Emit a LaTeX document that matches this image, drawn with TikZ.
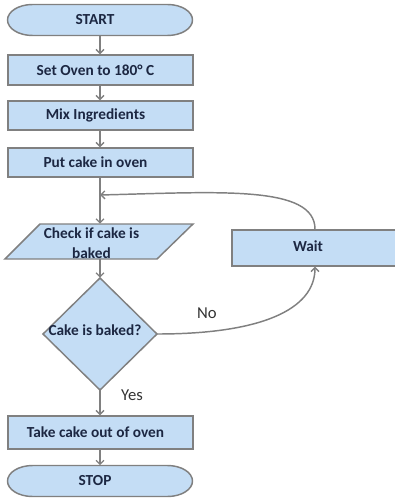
\documentclass[tikz,border=0pt]{standalone}
\usepackage{fontspec}
\setmainfont{Carlito}
\usetikzlibrary{arrows.meta}
\definecolor{boxfill}{HTML}{C4DDF5}
\definecolor{boxline}{HTML}{808080}
\definecolor{txt}{HTML}{1C2742}
\definecolor{lbl}{HTML}{333333}
\def\px{0.75pt}
\begin{document}
\begin{tikzpicture}[x=0.75pt,y=-0.75pt,
  shapestyle/.style={draw=boxline,fill=boxfill,line width=1.1pt},
  procbox/.style={shapestyle,rectangle,minimum width=185*\px,minimum height=30*\px,inner sep=0pt,
     font=\fontsize{11.5}{13}\selectfont\bfseries,text=txt,execute at begin node=\kern-7.5pt},
  termtext/.style={rectangle,minimum width=185*\px,minimum height=31*\px,inner sep=0pt,
     font=\fontsize{11.5}{13}\selectfont\bfseries,text=txt,execute at begin node=\kern-7.5pt},
  plaintext/.style={inner sep=0pt,font=\fontsize{11.5}{13}\selectfont\bfseries,text=txt,align=center},
  edgelabel/.style={inner sep=0pt,font=\fontsize{12.5}{14}\selectfont,text=lbl},
  conn/.style={draw=boxline,line width=1.1pt,-{Straight Barb[length=3pt,width=6pt,line width=1pt]}}]
\useasboundingbox (0,0) rectangle (395,502);
% terminal shapes (stadium with elliptic ends)
\filldraw[shapestyle] (100-67.5,4.5) -- (100+67.5,4.5)
  arc[start angle=-90,end angle=90,x radius=25,y radius=15.5] -- (100-67.5,35.5)
  arc[start angle=90,end angle=270,x radius=25,y radius=15.5] -- cycle;
\filldraw[shapestyle] (100-67.5,465.5) -- (100+67.5,465.5)
  arc[start angle=-90,end angle=90,x radius=25,y radius=15.5] -- (100-67.5,496.5)
  arc[start angle=90,end angle=270,x radius=25,y radius=15.5] -- cycle;
% parallelogram and diamond
\filldraw[shapestyle] (40,224) -- (193,224) -- (157,259) -- (5,259) -- cycle;
\filldraw[shapestyle] (100,278) -- (157,334) -- (100,390) -- (43,334) -- cycle;
% nodes
\node[termtext] (start) at (100,20) {START};
\node[procbox] (set) at (100.5,70) {Set Oven to 180° C};
\node[procbox,minimum height=29*\px] (mix) at (100.5,115.5) {Mix Ingredients};
\node[procbox,minimum height=29*\px] (put) at (100.5,162.5) {Put cake in oven};
\node[rectangle,minimum width=153*\px,minimum height=35*\px,inner sep=0pt] (check) at (99,241.5) {};
\node[plaintext,align=center] (checktext) at (91.5,243.5) {Check if cake is\\[2pt]baked};
\node[rectangle,minimum width=114*\px,minimum height=112*\px,inner sep=0pt] (dec) at (100,334) {};
\node[plaintext] (dectext) at (95,330) {Cake is baked?};
\node[procbox,minimum width=166*\px,minimum height=36*\px,execute at begin node=\kern-3pt] (wait) at (315,248) {\raisebox{3pt}{Wait}};
\node[procbox,minimum height=33*\px] (take) at (100.5,432.5) {Take cake out of oven};
\node[termtext] (stop) at (100,481) {STOP};
\coordinate (join) at (100,195);
% labels
\node[edgelabel] (no) at (207,313) {No};
\node[edgelabel] (yes) at (132,395) {Yes};
% connectors
\draw[conn] (start.south) -- (set.north -| start.south);
\draw[conn] (set.south -| start.south) -- (mix.north -| start.south);
\draw[conn] (mix.south -| start.south) -- (put.north -| start.south);
\draw[conn] (put.south -| start.south) -- (check.north -| start.south);
\draw[conn] (check.south -| start.south) -- (dec.north);
\draw[conn] (dec.south) -- (take.north -| dec.south);
\draw[conn] (take.south -| dec.south) -- (stop.north);
\draw[conn] (dec.east) .. controls (260,334) and (315,310) .. (wait.south);
\draw[conn] (wait.north) .. controls (315,185) and (220,192) .. (join);
\end{tikzpicture}
\end{document}
